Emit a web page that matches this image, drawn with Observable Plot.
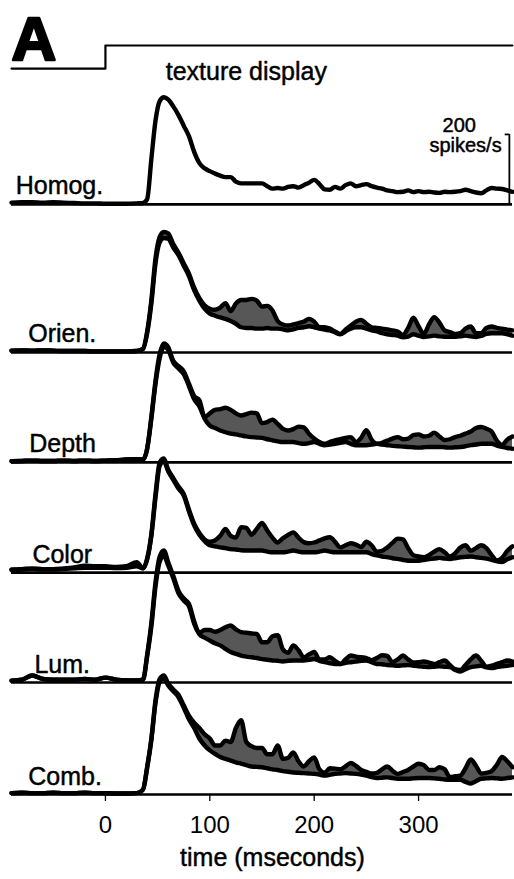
<!DOCTYPE html>
<html>
<head>
<meta charset="utf-8">
<script src="https://cdn.jsdelivr.net/npm/d3@7"></script>
<script src="https://cdn.jsdelivr.net/npm/@observablehq/plot@0.6"></script>
<style>
  body { margin: 0; background: #fff; }
  #chart svg { display: block; }
</style>
</head>
<body>
<div id="chart"></div>
<script>
// Sample times (ms after texture onset)
const time = [
  -90, -80, -70, -60, -50, -40, -30, -20, -10, 0, 10, 20, 30,
  36, 40, 44, 48, 52, 56, 60,
  65, 70, 75, 80, 85, 90, 95, 100, 105, 110,
  115, 120, 125, 130, 135, 140, 145, 150, 155, 160,
  165, 170, 175, 180, 185, 190, 195, 200, 205, 210,
  215, 220, 225, 230, 235, 240, 245, 250, 255, 260,
  265, 270, 275, 280, 285, 290, 295, 300, 305, 310,
  315, 320, 325, 330, 335, 340, 345, 350, 355, 360,
  365, 370, 375, 380, 385, 390
];

// Population response, spikes/s. Homogeneous texture
const homog = [
  5, 6, 6, 5, 6, 5, 4, 3, 3, 2, 2, 2, 3,
  4, 15, 130, 240, 295, 306, 300,
  280, 255, 225, 195, 150, 118, 103, 95, 88, 82,
  78, 78, 65, 60, 60, 60, 60, 60, 52, 45,
  47, 45, 50, 52, 48, 55, 62, 70, 58, 43,
  42, 50, 45, 55, 60, 52, 55, 58, 52, 48,
  45, 40, 38, 35, 36, 40, 35, 38, 35, 36,
  34, 33, 36, 35, 36, 38, 42, 38, 34, 32,
  40, 47, 45, 44, 40, 36
];

// Figure (receptive field on the figure) and ground responses per cue
const orienFigure = [
  5, 6, 5, 6, 5, 4, 4, 4, 3, 3, 3, 3, 4,
  10, 60, 150, 270, 330, 344, 340,
  310, 285, 255, 225, 185, 155, 135, 125, 122, 128,
  141, 118, 140, 150, 150, 153, 148, 131, 133, 120,
  90, 80, 77, 80, 84, 88, 96, 88, 72, 72,
  68, 60, 53, 65, 77, 88, 93, 82, 72, 70,
  68, 66, 63, 60, 50, 70, 99, 75, 53, 80,
  101, 85, 63, 58, 53, 55, 68, 74, 55, 55,
  70, 74, 70, 68, 65, 63
];
const orienGround = [
  5, 6, 5, 6, 5, 4, 4, 4, 3, 3, 3, 3, 4,
  10, 55, 140, 255, 315, 327, 325,
  300, 278, 248, 218, 178, 148, 125, 111, 105, 100,
  96, 90, 82, 72, 70, 70, 68, 68, 70, 68,
  68, 66, 63, 66, 70, 72, 75, 72, 68, 65,
  63, 57, 52, 60, 68, 72, 72, 68, 63, 60,
  55, 52, 50, 48, 43, 45, 52, 48, 44, 46,
  48, 46, 45, 45, 45, 46, 48, 46, 44, 47,
  53, 55, 55, 55, 52, 48
];

const depthFigure = [
  3, 4, 5, 4, 4, 5, 4, 5, 4, 5, 6, 8, 9,
  8, 40, 130, 234, 310, 340, 330,
  290, 275, 260, 225, 190, 178, 130, 140, 150, 152,
  156, 150, 140, 134, 138, 142, 140, 112, 115, 122,
  110, 96, 91, 95, 102, 100, 82, 68, 58, 53,
  58, 63, 66, 70, 72, 58, 70, 92, 65, 53,
  56, 62, 68, 72, 66, 68, 78, 80, 74, 76,
  85, 74, 64, 66, 72, 76, 82, 88, 98, 101,
  96, 88, 62, 50, 65, 74
];
const depthGround = [
  3, 4, 5, 4, 4, 5, 4, 5, 4, 5, 6, 8, 9,
  8, 38, 125, 225, 298, 330, 322,
  285, 268, 252, 218, 180, 160, 125, 105, 98, 91,
  86, 82, 80, 77, 74, 72, 71, 70, 66, 63,
  60, 58, 58, 58, 55, 53, 55, 58, 53, 49,
  51, 53, 56, 58, 53, 49, 49, 49, 51, 53,
  51, 49, 47, 46, 45, 44, 43, 42, 43, 44,
  44, 44, 43, 42, 43, 44, 46, 49, 51, 53,
  53, 53, 48, 44, 41, 39
];

const colorFigure = [
  8, 10, 12, 10, 10, 12, 15, 20, 18, 18, 16, 18, 30,
  12, 40, 110, 225, 315, 326, 295,
  270, 246, 225, 180, 140, 113, 95, 88, 92, 105,
  125, 105, 100, 130, 128, 108, 125, 142, 120, 100,
  86, 98, 108, 115, 100, 87, 84, 86, 92, 98,
  101, 88, 72, 78, 84, 80, 73, 88, 78, 60,
  62, 72, 85, 97, 95, 70, 50, 46, 44, 50,
  60, 67, 58, 46, 55, 72, 78, 63, 70, 78,
  70, 50, 35, 42, 62, 75
];
const colorGround = [
  8, 9, 10, 9, 9, 10, 12, 14, 14, 14, 13, 14, 18,
  12, 38, 105, 215, 305, 318, 290,
  265, 240, 220, 175, 135, 108, 90, 78, 75, 72,
  70, 67, 66, 64, 63, 63, 63, 63, 60, 58,
  58, 58, 60, 63, 60, 58, 58, 58, 60, 63,
  60, 58, 58, 58, 58, 58, 58, 58, 53, 49,
  46, 44, 41, 39, 36, 34, 34, 34, 36, 39,
  40, 42, 40, 39, 41, 44, 45, 46, 44, 42,
  40, 36, 32, 30, 38, 44
];

const lumFigure = [
  5, 8, 20, 10, 8, 8, 8, 10, 8, 14, 8, 6, 6,
  8, 80, 170, 287, 360, 377, 345,
  305, 262, 240, 225, 175, 142, 150, 150, 145, 150,
  158, 163, 152, 144, 142, 140, 139, 115, 115, 132,
  135, 95, 85, 106, 92, 72, 80, 87, 66, 66,
  72, 62, 53, 66, 77, 74, 72, 70, 64, 70,
  78, 76, 58, 66, 77, 66, 57, 58, 60, 57,
  53, 58, 63, 50, 38, 36, 50, 66, 77, 62,
  45, 48, 53, 58, 63, 60
];
const lumGround = [
  5, 8, 20, 10, 8, 8, 8, 10, 8, 14, 8, 6, 6,
  8, 75, 160, 275, 345, 362, 335,
  298, 255, 234, 218, 168, 138, 128, 120, 112, 106,
  96, 87, 82, 77, 74, 72, 70, 67, 65, 63,
  62, 60, 62, 63, 63, 63, 65, 67, 62, 58,
  55, 53, 53, 56, 58, 60, 62, 63, 58, 53,
  52, 50, 49, 48, 49, 50, 48, 46, 45, 44,
  45, 46, 45, 44, 36, 31, 38, 44, 46, 48,
  43, 41, 44, 46, 48, 50
];

const combFigure = [
  4, 5, 4, 4, 5, 4, 4, 5, 4, 4, 3, 3, 4,
  14, 80, 160, 270, 330, 340, 318,
  300, 285, 255, 225, 205, 190, 172, 160, 140, 140,
  154, 150, 190, 212, 150, 138, 133, 133, 115, 115,
  140, 102, 105, 120, 95, 80, 95, 106, 72, 62,
  75, 74, 72, 80, 90, 82, 70, 65, 60, 62,
  72, 80, 68, 59, 64, 70, 80, 88, 84, 70,
  70, 78, 72, 50, 52, 54, 75, 100, 82, 60,
  62, 67, 85, 107, 95, 78
];
const combGround = [
  4, 5, 4, 4, 5, 4, 4, 5, 4, 4, 3, 3, 4,
  14, 76, 155, 262, 322, 332, 312,
  295, 278, 248, 215, 190, 160, 140, 126, 116, 107,
  102, 97, 92, 88, 84, 80, 79, 78, 75, 72,
  70, 67, 65, 63, 62, 61, 60, 59, 57, 54,
  56, 59, 60, 61, 60, 59, 57, 54, 50, 47,
  48, 49, 47, 45, 45, 45, 46, 47, 47, 47,
  46, 45, 43, 42, 42, 42, 36, 31, 38, 45,
  46, 47, 46, 45, 47, 49
];

const rowNames = ["Homog.", "Orien.", "Depth", "Color", "Lum.", "Comb."];
const figureSeries = [homog, orienFigure, depthFigure, colorFigure, lumFigure, combFigure];
const groundSeries = [homog, orienGround, depthGround, colorGround, lumGround, combGround];

// Stimulus trace: texture appears at t = 0
const stimTime = [-90, 0, 0, 390];
const stimState = [0, 0, 1, 1];

const xTicks = [0, 100, 200, 300];
const scaleBarValue = 200; // spikes/s

// ---- layout (in spikes/s units of the shared y scale) ----
const rowBase = [1686, 1263, 949, 634, 320, 0];
const labelX = [-86, -74, -73, -70, -68, -74]; // left edge of each row label, in ms
const stimBase = 2074, stimStep = 66;

for (const s of [...figureSeries, ...groundSeries]) {
  if (s.length !== time.length) throw new Error("series length " + s.length + " != " + time.length);
}

const traces = [];
rowNames.forEach((name, r) => {
  time.forEach((t, j) => {
    traces.push({
      row: name,
      band: r > 0,
      t,
      fig: rowBase[r] + figureSeries[r][j],
      gnd: rowBase[r] + groundSeries[r][j]
    });
  });
});
const bands = traces.filter(d => d.band);
const stim = stimTime.map((t, i) => ({t, y: stimBase + stimStep * stimState[i]}));
const labels = rowNames.map((name, i) => ({name, x: labelX[i], y: rowBase[i]}));
const barTop = rowBase[0] + scaleBarValue;

const font = "'Liberation Sans', Arial, Helvetica, sans-serif";
const ink = {fill: "black", stroke: "black", strokeWidth: 0.45};

const chart = Plot.plot({
  width: 514,
  height: 879,
  marginLeft: 11,
  marginRight: 2,
  marginTop: 24,
  marginBottom: 85,
  style: {fontFamily: font, color: "black", background: "white"},
  x: {domain: [-90, 390]},
  y: {domain: [0, 2200], axis: null},
  marks: [
    // stippled area between figure and ground responses
    Plot.areaY(bands, {x: "t", y1: "gnd", y2: "fig", z: "row", fill: "#575757", curve: "monotone-x"}),
    Plot.ruleY(rowBase, {stroke: "black", strokeWidth: 2.6}),
    Plot.line(bands, {x: "t", y: "gnd", z: "row", stroke: "black", strokeWidth: 4.4, curve: "monotone-x", strokeLinejoin: "round"}),
    Plot.line(traces, {x: "t", y: "fig", z: "row", stroke: "black", strokeWidth: 4.4, curve: "monotone-x", strokeLinejoin: "round"}),
    // stimulus trace
    Plot.line(stim, {x: "t", y: "y", stroke: "black", strokeWidth: 2.2}),
    Plot.text(["texture display"], {x: 135, y: stimBase, lineAnchor: "middle", dy: 3, fontSize: 25, ...ink}),
    Plot.text(["A"], {frameAnchor: "top-left", dx: 0, dy: -9, lineAnchor: "top", textAnchor: "start", fontSize: 62, fontWeight: "bold", fill: "black", stroke: "black", strokeWidth: 2.5}),
    // row labels
    Plot.text(labels, {x: "x", y: "y", text: "name", dy: -10, lineAnchor: "bottom", textAnchor: "start", fontSize: 25, ...ink}),
    // scale bar
    Plot.ruleX([387], {y1: rowBase[0], y2: barTop, stroke: "black", strokeWidth: 1.8}),
    Plot.ruleY([barTop], {x1: 383, x2: 387, stroke: "black", strokeWidth: 1.8}),
    Plot.text([String(scaleBarValue)], {x: 339, y: barTop, dy: -2, lineAnchor: "bottom", fontSize: 20, ...ink}),
    Plot.text(["spikes/s"], {x: 345, y: barTop, dy: 18, lineAnchor: "bottom", fontSize: 20, ...ink}),
    // time axis
    Plot.axisX(xTicks, {tickSize: 7, tickPadding: 14, fontSize: 24, label: null, stroke: "black", strokeWidth: 1.3}),
    Plot.text(["time (mseconds)"], {x: 160, frameAnchor: "bottom", dy: 71, lineAnchor: "bottom", fontSize: 25, ...ink})
  ]
});

document.getElementById("chart").append(chart);
</script>
</body>
</html>
